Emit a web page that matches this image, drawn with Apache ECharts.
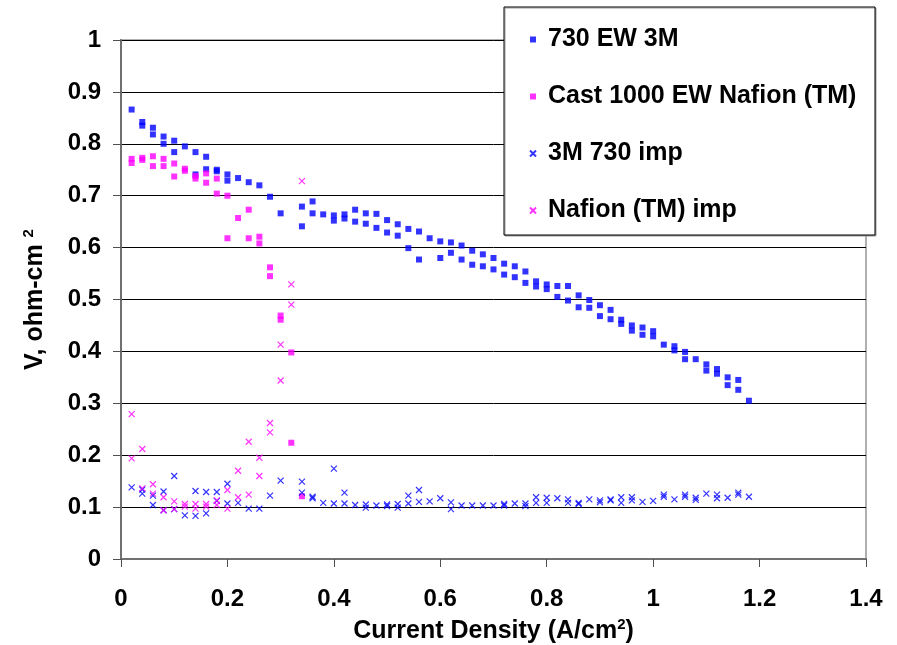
<!DOCTYPE html>
<html>
<head>
<meta charset="utf-8">
<script src="https://cdn.jsdelivr.net/npm/echarts@6/dist/echarts.min.js"></script>
<style>
  html, body { margin: 0; padding: 0; background: #fff; }
  #chart { width: 897px; height: 645px; }
</style>
</head>
<body>
<div id="chart"></div>
<script>
// data: [current density, value]
const ew730 = [
  [0.02,0.866],[0.04,0.842],[0.04,0.835],[0.06,0.831],[0.06,0.818],
  [0.08,0.814],[0.08,0.800],[0.10,0.806],[0.10,0.784],[0.12,0.795],
  [0.14,0.784],[0.14,0.741],[0.16,0.775],[0.16,0.751],[0.18,0.750],
  [0.18,0.747],[0.20,0.741],[0.20,0.729],[0.22,0.734],[0.24,0.726],
  [0.26,0.720],[0.28,0.698],[0.30,0.666],[0.34,0.679],[0.34,0.641],
  [0.36,0.689],[0.36,0.666],[0.38,0.664],[0.40,0.662],[0.40,0.652],
  [0.42,0.664],[0.42,0.656],[0.44,0.673],[0.44,0.650],[0.46,0.666],
  [0.46,0.646],[0.48,0.665],[0.48,0.638],[0.50,0.653],[0.50,0.629],
  [0.52,0.645],[0.52,0.623],[0.54,0.636],[0.54,0.599],[0.56,0.631],
  [0.56,0.577],[0.58,0.618],[0.60,0.612],[0.60,0.580],[0.62,0.610],
  [0.62,0.590],[0.64,0.604],[0.64,0.577],[0.66,0.594],[0.66,0.567],
  [0.68,0.587],[0.68,0.564],[0.70,0.580],[0.70,0.558],[0.72,0.569],
  [0.72,0.548],[0.74,0.564],[0.74,0.543],[0.76,0.554],[0.76,0.532],
  [0.78,0.535],[0.78,0.525],[0.80,0.529],[0.80,0.520],[0.82,0.526],
  [0.82,0.505],[0.84,0.526],[0.84,0.498],[0.86,0.508],[0.86,0.485],
  [0.88,0.499],[0.88,0.484],[0.90,0.489],[0.90,0.468],[0.92,0.480],
  [0.92,0.462],[0.94,0.461],[0.94,0.453],[0.96,0.450],[0.96,0.440],
  [0.98,0.446],[0.98,0.432],[1.00,0.439],[1.00,0.429],[1.02,0.413],
  [1.04,0.410],[1.04,0.402],[1.06,0.399],[1.06,0.385],[1.08,0.385],
  [1.10,0.375],[1.10,0.363],[1.12,0.366],[1.12,0.357],[1.14,0.350],
  [1.14,0.335],[1.16,0.345],[1.16,0.326],[1.18,0.305]
]

const nafion1000 = [
  [0.02,0.771],[0.02,0.763],[0.04,0.773],[0.04,0.769],[0.06,0.776],
  [0.06,0.757],[0.08,0.771],[0.08,0.757],[0.10,0.762],[0.10,0.737],
  [0.12,0.752],[0.12,0.748],[0.14,0.738],[0.14,0.733],[0.16,0.743],
  [0.16,0.725],[0.18,0.733],[0.18,0.704],[0.20,0.700],[0.20,0.618],
  [0.22,0.657],[0.24,0.673],[0.24,0.618],[0.26,0.621],[0.26,0.608],
  [0.28,0.562],[0.28,0.545],[0.30,0.469],[0.30,0.461],[0.32,0.398],
  [0.32,0.224],[0.34,0.121]
]

const imp3m730 = [
  [0.02,0.138],[0.04,0.134],[0.04,0.126],[0.06,0.122],[0.06,0.104],
  [0.08,0.130],[0.08,0.094],[0.10,0.160],[0.10,0.096],[0.12,0.084],
  [0.14,0.131],[0.14,0.083],[0.16,0.129],[0.16,0.088],[0.18,0.129],
  [0.18,0.112],[0.20,0.145],[0.20,0.107],[0.22,0.108],[0.24,0.097],
  [0.26,0.097],[0.28,0.122],[0.30,0.151],[0.34,0.149],[0.34,0.128],
  [0.36,0.120],[0.36,0.117],[0.38,0.108],[0.40,0.174],[0.40,0.107],
  [0.42,0.128],[0.42,0.107],[0.44,0.104],[0.46,0.105],[0.46,0.099],
  [0.48,0.103],[0.50,0.105],[0.50,0.102],[0.52,0.106],[0.52,0.099],
  [0.54,0.122],[0.54,0.107],[0.56,0.133],[0.56,0.110],[0.58,0.111],
  [0.60,0.117],[0.62,0.109],[0.62,0.096],[0.64,0.103],[0.66,0.103],
  [0.68,0.103],[0.70,0.103],[0.72,0.106],[0.72,0.103],[0.74,0.107],
  [0.76,0.107],[0.76,0.102],[0.78,0.119],[0.78,0.108],[0.80,0.118],
  [0.80,0.108],[0.82,0.117],[0.84,0.115],[0.84,0.108],[0.86,0.108],
  [0.86,0.106],[0.88,0.115],[0.90,0.113],[0.90,0.109],[0.92,0.115],
  [0.92,0.113],[0.94,0.119],[0.94,0.108],[0.96,0.119],[0.96,0.113],
  [0.98,0.110],[1.00,0.112],[1.02,0.124],[1.02,0.120],[1.04,0.115],
  [1.06,0.124],[1.06,0.120],[1.08,0.118],[1.08,0.114],[1.10,0.126],
  [1.12,0.124],[1.12,0.117],[1.14,0.118],[1.16,0.128],[1.16,0.124],
  [1.18,0.120]
]

const impNafion = [
  [0.02,0.279],[0.02,0.194],[0.04,0.212],[0.04,0.136],[0.06,0.144],
  [0.06,0.126],[0.08,0.119],[0.08,0.094],[0.10,0.111],[0.10,0.096],
  [0.12,0.106],[0.12,0.101],[0.14,0.106],[0.14,0.097],[0.16,0.106],
  [0.16,0.101],[0.18,0.113],[0.18,0.104],[0.20,0.133],[0.20,0.097],
  [0.22,0.170],[0.22,0.119],[0.24,0.226],[0.24,0.124],[0.26,0.195],
  [0.26,0.160],[0.28,0.262],[0.28,0.244],[0.30,0.413],[0.30,0.344],
  [0.32,0.529],[0.32,0.490],[0.34,0.728]
]

const seriesNames = ['730 EW 3M', 'Cast 1000 EW Nafion (TM)', '3M 730 imp', 'Nafion (TM) imp']

const font = '"Liberation Sans", Arial, sans-serif'
const cross = 'path://M0,0L10,10M10,0L0,10'

const chart = echarts.init(document.getElementById('chart'))

function squares(name, data, color) {
  return {
    name, type: 'scatter', data,
    symbol: 'rect', symbolSize: 6,
    itemStyle: { color },
    emphasis: { disabled: true }
  }
}

function crosses(name, data, color) {
  return {
    name, type: 'scatter', data,
    symbol: cross, symbolSize: 6,
    itemStyle: { color: 'rgba(0,0,0,0)', borderColor: color, borderWidth: 1.2 },
    emphasis: { disabled: true }
  }
}

const sup = { fontSize: 15, fontWeight: 'bold', verticalAlign: 'top', padding: [0, 0, 13, 0] }

chart.setOption({
  animation: false,
  backgroundColor: '#fff',
  textStyle: { fontFamily: font },
  grid: {
    left: 121, right: 31, top: 40, bottom: 86,
    outerBoundsMode: 'none',
    show: true, borderColor: '#b0b0b0', borderWidth: 2
  },
  graphic: [{
    type: 'rect', z: 5,
    shape: { x: 504, y: 7, width: 371, height: 228 },
    style: { fill: '#fff', stroke: '#000', lineWidth: 1, shadowColor: '#999', shadowOffsetX: 1, shadowOffsetY: 1 }
  }],
  legend: {
    z: 10,
    orient: 'vertical',
    left: 504, top: 7,
    padding: [20, 17, 17, 25],
    itemWidth: 6, itemHeight: 6,
    itemGap: 32,
    data: seriesNames,
    textStyle: {
      fontFamily: font, fontWeight: 'bold', fontSize: 25, color: '#000',
      lineHeight: 24, padding: [0, 0, 0, 7]
    }
  },
  xAxis: {
    type: 'value', min: 0, max: 1.4, interval: 0.2,
    name: 'Current Density (A/cm{sup|2})',
    nameLocation: 'middle', nameGap: 58,
    nameTextStyle: {
      fontFamily: font, fontWeight: 'bold', fontSize: 25, color: '#000',
      rich: { sup }
    },
    axisLine: { show: true, onZero: false, lineStyle: { color: '#707070', width: 2 } },
    axisTick: { show: true, inside: false, length: 8, lineStyle: { color: '#505050' } },
    axisLabel: { margin: 28, fontFamily: font, fontWeight: 'bold', fontSize: 24, color: '#000' },
    splitLine: { show: false }
  },
  yAxis: {
    type: 'value', min: 0, max: 1, interval: 0.1,
    name: 'V, ohm-cm {sup|2}',
    nameLocation: 'middle', nameGap: 72,
    nameTextStyle: {
      fontFamily: font, fontWeight: 'bold', fontSize: 25, color: '#000',
      rich: { sup }
    },
    axisLine: { show: true, onZero: false, lineStyle: { color: '#707070', width: 2 } },
    axisTick: { show: true, inside: false, length: 8, lineStyle: { color: '#505050' } },
    axisLabel: {
      margin: 20, fontFamily: font, fontWeight: 'bold', fontSize: 24, color: '#000',
      formatter: v => String(Math.round(v * 10) / 10)
    },
    splitLine: { show: true, lineStyle: { color: '#000', width: 1 } }
  },
  series: [
    squares(seriesNames[0], ew730, '#0000ff'),
    squares(seriesNames[1], nafion1000, '#ff00ff'),
    crosses(seriesNames[2], imp3m730, '#0000ff'),
    crosses(seriesNames[3], impNafion, '#ff00ff')
  ]
})
</script>
</body>
</html>
